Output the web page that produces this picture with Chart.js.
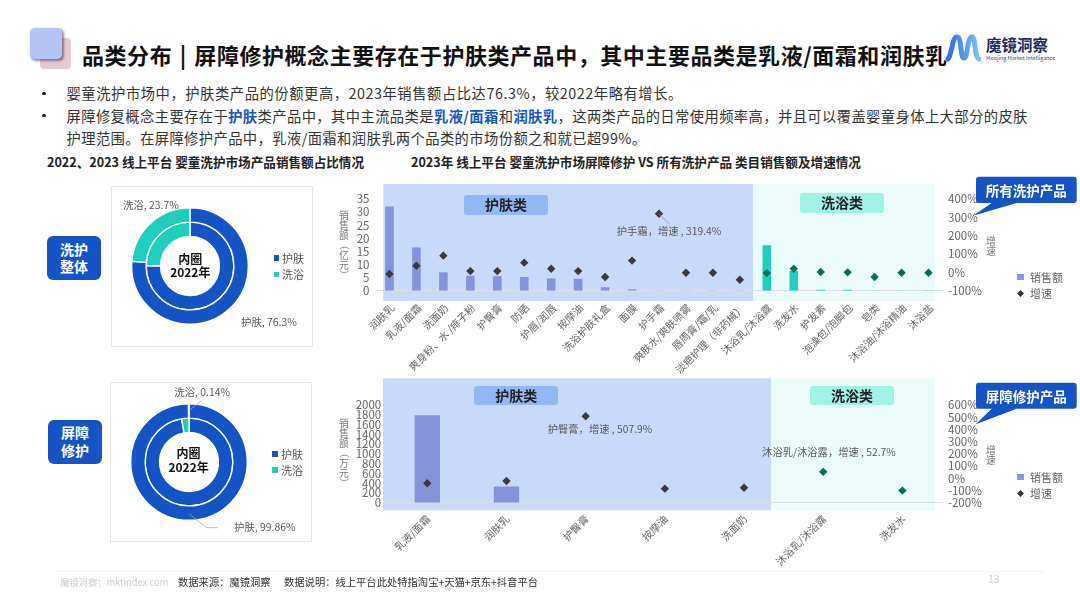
<!DOCTYPE html>
<html lang="zh">
<head>
<meta charset="utf-8">
<script src="https://cdn.jsdelivr.net/npm/chart.js@4"></script>
<style>
  * { box-sizing: border-box; }
  html, body { margin: 0; padding: 0; background: #fff; }
  body { position: relative; width: 1080px; height: 608px; overflow: hidden; font-family: "Noto Sans CJK SC", "Noto Sans", sans-serif; color: #333; }
  .abs { position: absolute; white-space: nowrap; }
  canvas { position: absolute; }
  .title { left: 82px; top: 38px; font-size: 22px; line-height: 32px; font-weight: 700; color: #111; letter-spacing: .55px; word-spacing: 2px; }
  .bullet { left: 66.5px; font-size: 14.3px; line-height: 20px; letter-spacing: .4px; color: #333; }
  .bullet b { color: #1554c7; }
  .dot { left: 42px; width: 3.5px; height: 3.5px; border-radius: 50%; background: #222; }
  .sub { font-size: 12.6px; line-height: 16px; font-weight: 700; color: #222; }
  .tag { background: #1554c7; color: #fff; font-weight: 700; font-size: 14px; line-height: 17.5px; border-radius: 6px; display: flex; align-items: center; justify-content: center; text-align: center; white-space: normal; width: 54px; height: 43.5px; }
  .box { border: 1.5px solid #e6e6e6; }
  .note { font-size: 10.4px; line-height: 16px; color: #595959; }
  .lg { font-size: 11px; line-height: 16px; color: #595959; }
  .centre { font-size: 12px; line-height: 13.5px; font-weight: 700; color: #111; text-align: center; width: 60px; }
  .sq { width: 5.5px; height: 5.5px; }
  .band { width: 84px; height: 19.7px; border-radius: 3px; font-size: 14px; line-height: 19.7px; font-weight: 700; color: #222; text-align: center; }
  .vert { width: 10px; white-space: normal; line-break: anywhere; font-size: 9.8px; line-height: 10px; color: #777; }
  .vert i { display: inline-block; font-style: normal; transform: rotate(90deg); }
  .call { font-size: 13.5px; font-weight: 700; color: #fff; width: 100.7px; text-align: center; line-height: 26px; }
  .foot { font-size: 10.3px; line-height: 14px; }
</style>
</head>
<body>
<!-- header -->
<div class="abs" style="left:40.4px;top:38px;width:30.6px;height:30.5px;border-radius:4px;background:#e7c9d5"></div>
<div class="abs" style="left:30.4px;top:27.5px;width:31.5px;height:31px;border-radius:5px;background:#b4c4f5;box-shadow:1.5px 1.5px 2.5px rgba(70,60,80,.6)"></div>
<div class="abs title">品类分布 | 屏障修护概念主要存在于护肤类产品中，其中主要品类是乳液/面霜和润肤乳</div>
<svg class="abs" style="left:945px;top:32px" width="36" height="34" viewBox="0 0 36 32">
  <defs><linearGradient id="mg" x1="0" x2="1" y1="0" y2="0"><stop offset="0" stop-color="#2f6fe6"/><stop offset="1" stop-color="#7cc0f5"/></linearGradient></defs>
  <path d="M3 26 C7 22 7 4 12 4 C17 4 15 25 19 25 C23 25 22 4 27 4 C31 4 29 24 34 26" fill="none" stroke="url(#mg)" stroke-width="5" stroke-linecap="round"/>
</svg>
<div class="abs" style="left:986px;top:34px;font-size:15.5px;line-height:20px;font-weight:700;color:#232a5c">魔镜洞察</div>
<div class="abs" style="left:986px;top:54px;font-size:5.4px;line-height:8px;color:#3d4a80">Moojing Market Intelligance</div>

<!-- bullets -->
<div class="abs dot" style="top:91.5px"></div>
<div class="abs dot" style="top:113.8px"></div>
<div class="abs bullet" style="top:83.3px;letter-spacing:.55px">婴童洗护市场中，护肤类产品的份额更高，2023年销售额占比达76.3%，较2022年略有增长。</div>
<div class="abs bullet" style="top:105.7px">屏障修复概念主要存在于<b>护肤</b>类产品中，其中主流品类是<b>乳液/面霜</b>和<b>润肤乳</b>，这两类产品的日常使用频率高，并且可以覆盖婴童身体上大部分的皮肤</div>
<div class="abs bullet" style="top:128px">护理范围。在屏障修护产品中，乳液/面霜和润肤乳两个品类的市场份额之和就已超99%。</div>
<div class="abs sub" style="left:47px;top:153.7px">2022、2023 线上平台 婴童洗护市场产品销售额占比情况</div>
<div class="abs sub" style="left:411px;top:153.7px">2023年 线上平台 婴童洗护市场屏障修护 VS 所有洗护产品 类目销售额及增速情况</div>

<!-- left panels -->
<div class="abs tag" style="left:47px;top:236.3px">洗护<br>整体</div>
<div class="abs box" style="left:111px;top:186.3px;width:201.7px;height:160.4px"></div>
<canvas id="pieOverall" style="left:131px;top:207px;width:118px;height:118px"></canvas>
<div class="abs centre" style="left:160.3px;top:251.5px">内圈<br>2022年</div>
<div class="abs note" style="left:123px;top:196.7px">洗浴, 23.7%</div>
<div class="abs note" style="left:241px;top:314px">护肤, 76.3%</div>
<div class="abs sq" style="left:273.7px;top:255px;background:#1554c7"></div>
<div class="abs lg" style="left:282px;top:249.7px">护肤</div>
<div class="abs sq" style="left:273.7px;top:271.5px;background:#1fcfbb"></div>
<div class="abs lg" style="left:282px;top:266.3px">洗浴</div>

<div class="abs tag" style="left:48px;top:420px">屏障<br>修护</div>
<div class="abs box" style="left:109.7px;top:382.3px;width:202px;height:160px"></div>
<canvas id="pieBarrier" style="left:130px;top:403.3px;width:118px;height:118px"></canvas>
<div class="abs centre" style="left:158.6px;top:446px">内圈<br>2022年</div>
<div class="abs note" style="left:174.3px;top:384.3px">洗浴, 0.14%</div>
<div class="abs note" style="left:234px;top:519.3px">护肤, 99.86%</div>
<div class="abs sq" style="left:272.3px;top:451.3px;background:#1554c7"></div>
<div class="abs lg" style="left:281px;top:446px">护肤</div>
<div class="abs sq" style="left:272.3px;top:467.3px;background:#1fcfbb"></div>
<div class="abs lg" style="left:281px;top:462px">洗浴</div>

<!-- combo charts -->
<canvas id="allChart" style="left:340px;top:175px;width:660px;height:200px"></canvas>
<canvas id="barrierChart" style="left:340px;top:375px;width:660px;height:195px"></canvas>
<svg class="abs" style="left:0;top:0;pointer-events:none" width="1080" height="608">
  <polyline points="201.7,400.7 189.3,410.3" fill="none" stroke="#aaa" stroke-width=".8"/>
  <polyline points="189.3,514 206.7,527.7 217.7,527.7" fill="none" stroke="#aaa" stroke-width=".8"/>
  <path d="M979 176.7H1073.7a3 3 0 0 1 3 3V200a3 3 0 0 1 -3 3H1016.7L973 215.7L991.7 203H979a3 3 0 0 1 -3 -3V179.7a3 3 0 0 1 3 -3Z" fill="#1554c7"/>
  <path d="M979 382.7H1073.7a3 3 0 0 1 3 3V405.7a3 3 0 0 1 -3 3H1016.7L975.7 424.3L991.7 408.7H979a3 3 0 0 1 -3 -3V385.7a3 3 0 0 1 3 -3Z" fill="#1554c7"/>
</svg>
<div class="abs band" style="left:464px;top:195px;background:#93b6f5">护肤类</div>
<div class="abs band" style="left:800px;top:193px;background:#a3f2e8">洗浴类</div>
<div class="abs band" style="left:474.3px;top:385.7px;background:#93b6f5">护肤类</div>
<div class="abs band" style="left:810px;top:385.7px;background:#a3f2e8">洗浴类</div>
<div class="abs call" style="left:976px;top:176.7px">所有洗护产品</div>
<div class="abs call" style="left:976px;top:382.7px">屏障修护产品</div>
<div class="abs vert" style="left:339px;top:209.5px">销售额<i>（</i>亿元<i>）</i></div>
<div class="abs vert" style="left:339px;top:417.5px">销售额<i>（</i>万元<i>）</i></div>
<div class="abs vert" style="left:986px;top:236px">增速</div>
<div class="abs vert" style="left:986px;top:444.5px">增速</div>
<div class="abs sq" style="left:1017.3px;top:273.5px;width:6.5px;height:6.5px;background:#8c98dc"></div>
<div class="abs lg" style="left:1030px;top:269px;color:#666">销售额</div>
<div class="abs" style="left:1018.2px;top:290.5px;width:5px;height:5px;background:#3a3a3a;transform:rotate(45deg)"></div>
<div class="abs lg" style="left:1030px;top:285px;color:#666">增速</div>
<div class="abs sq" style="left:1017.3px;top:473.5px;width:6.5px;height:6.5px;background:#8c98dc"></div>
<div class="abs lg" style="left:1030px;top:469px;color:#666">销售额</div>
<div class="abs" style="left:1018.2px;top:490.5px;width:5px;height:5px;background:#3a3a3a;transform:rotate(45deg)"></div>
<div class="abs lg" style="left:1030px;top:485px;color:#666">增速</div>

<!-- footer -->
<div class="abs" style="left:58px;top:570.5px;width:985px;height:1px;background:#f2f2f2"></div>
<div class="abs foot" style="left:60px;top:575px;color:#cfcfcf;font-size:9.3px">魔镜洞察：mktindex.com</div>
<div class="abs foot" style="left:178px;top:575px;color:#333">数据来源：魔镜洞察</div>
<div class="abs foot" style="left:284px;top:575px;color:#333">数据说明：线上平台此处特指淘宝+天猫+京东+抖音平台</div>
<div class="abs foot" style="left:988px;top:572px;color:#ccc">13</div>

<script>
// Category sales + growth, all products
const allCats = ["润肤乳", "乳液/面霜", "洗面奶", "爽身粉、水 /痱子粉", "护臀膏", "防晒", "护唇/润唇", "按摩油", "洗浴护肤礼盒", "面膜", "护手霜", "爽肤水/爽肤喷雾", "唇周膏/霜/乳", "淡疤护理（非药械）", "沐浴乳/沐浴露", "洗发水", "护发素", "泡澡包/泡脚包", "皂类", "沐浴油/沐浴精油", "沐浴盐"];
const allSales = [32.1, 16.5, 7.0, 5.7, 5.5, 5.2, 4.7, 4.6, 1.3, 0.6, 0.1, 0.05, 0.05, 0.05, 17.3, 7.5, 0.4, 0.4, 0.05, 0.05, 0.05];
const allGrowth = [-9, 36, 91, 7, 7, 53, 20, 7, -25, 64, 319.4, -2, -2, -40, -4, 20, 2, 0, -25, -2, -2];
const allSalesTicks = [0, 5, 10, 15, 20, 25, 30, 35];
const allGrowthTicks = [-100, 0, 100, 200, 300, 400];

// Category sales + growth, barrier repair products
const barrierCats = ["乳液/面霜", "润肤乳", "护臀膏", "按摩油", "洗面奶", "沐浴乳/沐浴露", "洗发水"];
const barrierSales = [1788, 334, 0, 0, 0, 0, 0];
const barrierGrowth = [-41, -22, 507.9, -85, -77, 52.7, -101];
const barrierSalesTicks = [0, 200, 400, 600, 800, 1000, 1200, 1400, 1600, 1800, 2000];
const barrierGrowthTicks = [-200, -100, 0, 100, 200, 300, 400, 500, 600];

// Share doughnuts, outer ring 2023, inner ring 2022
const shareLabels = ["护肤", "洗浴"];
const overallOuter = [76.3, 23.7];
const overallInner = [75.1, 24.9];
const barrierOuter = [99.86, 0.14];
const barrierInner = [97.3, 2.7];

const fontFamily = '"Noto Sans CJK SC", "Noto Sans", sans-serif';
const BLUE = "#1554c7";
const TEAL = "#1fcfbb";

// light bands behind the plot, positioned through the x scale
const bandPlugin = {
  id: "bands",
  beforeDraw(chart, args, opts) {
    const x = chart.scales.x, ctx = chart.ctx, area = chart.chartArea;
    const top = area.top - opts.above, h = area.bottom + opts.below - top;
    const a = x.getPixelForValue(opts.from), b = x.getPixelForValue(opts.split), c = x.getPixelForValue(opts.to);
    ctx.save();
    ctx.fillStyle = "#c7daf9";
    ctx.fillRect(a, top, b - a, h);
    ctx.fillStyle = "#ebfbfa";
    ctx.fillRect(b, top, c - b, h);
    ctx.restore();
  }
};

// point callouts like "护手霜, 增速 , 319.4%"
const calloutPlugin = {
  id: "callouts",
  afterDatasetsDraw(chart, args, opts) {
    const ctx = chart.ctx, pts = chart.getDatasetMeta(1).data;
    ctx.save();
    ctx.font = "10.3px " + fontFamily;
    ctx.textAlign = "center";
    ctx.textBaseline = "middle";
    opts.items.forEach(it => {
      const p = pts[it.index];
      const text = chart.data.labels[it.index] + "，增速 , " + chart.data.datasets[1].data[it.index] + "%";
      if (it.leader) {
        ctx.strokeStyle = "#8a94a8";
        ctx.lineWidth = 0.8;
        ctx.beginPath();
        ctx.moveTo(p.x, p.y);
        ctx.lineTo(p.x + it.leader[0], p.y + it.leader[1]);
        ctx.stroke();
      }
      ctx.fillStyle = "#595959";
      ctx.fillText(text, p.x + it.dx, p.y + it.dy);
    });
    ctx.restore();
  }
};

function comboChart(id, cats, sales, growth, salesTicks, growthTicks, o) {
  const isBath = cats.map((c, i) => i > o.split);
  return new Chart(document.getElementById(id).getContext("2d"), {
    type: "bar",
    plugins: [bandPlugin, calloutPlugin],
    data: {
      labels: cats,
      datasets: [
        {
          label: "销售额",
          data: sales,
          yAxisID: "y",
          order: 2,
          barPercentage: 0.32,
          categoryPercentage: 1,
          backgroundColor: isBath.map(b => b ? TEAL : "#8494db")
        },
        {
          type: "line",
          label: "增速",
          data: growth,
          yAxisID: "y1",
          order: 1,
          showLine: false,
          pointStyle: "rectRot",
          pointRadius: 4.2,
          pointBackgroundColor: isBath.map(b => b ? "#0f6b5c" : "#3a3a3a"),
          pointBorderWidth: 0
        }
      ]
    },
    options: {
      responsive: false,
      animation: false,
      events: [],
      layout: { padding: { top: o.padTop, left: 0, right: 0, bottom: 0 } },
      plugins: {
        legend: { display: false },
        tooltip: { enabled: false },
        bands: { from: o.bandFrom, split: o.bandSplit, to: o.bandTo, above: o.above, below: o.below },
        callouts: { items: o.callouts }
      },
      scales: {
        x: {
          offset: true,
          grid: { display: false },
          border: { display: true, color: "#dcdfe6", width: 1 },
          ticks: { autoSkip: false, minRotation: 45, maxRotation: 45, padding: o.tickPad, labelOffset: o.labelShift, color: "#666", font: { family: fontFamily, size: 10.3 } },
          afterFit(s) { s.height = o.xHeight; s.paddingLeft = 0; s.paddingRight = 0; }
        },
        y: {
          position: "left",
          min: salesTicks[0],
          max: salesTicks[salesTicks.length - 1],
          afterBuildTicks(s) { s.ticks = salesTicks.map(v => ({ value: v })); },
          grid: { display: false, drawTicks: false },
          border: { display: false },
          ticks: { autoSkip: false, padding: 6.5, color: "#666", font: { family: fontFamily, size: 11.5 }, callback: v => String(v) },
          afterFit(s) { s.width = o.leftWidth; s.paddingTop = 0; s.paddingBottom = 0; }
        },
        y1: {
          position: "right",
          min: growthTicks[0],
          max: growthTicks[growthTicks.length - 1],
          afterBuildTicks(s) { s.ticks = growthTicks.map(v => ({ value: v })); },
          grid: { display: false, drawTicks: false },
          border: { display: false },
          ticks: { autoSkip: false, padding: 6, color: "#666", font: { family: fontFamily, size: 11.5 }, callback: v => v + "%" },
          afterFit(s) { s.width = 58; s.paddingTop = 0; s.paddingBottom = 0; }
        }
      }
    }
  });
}

comboChart("allChart", allCats, allSales, allGrowth, allSalesTicks, allGrowthTicks, {
  split: 13, bandFrom: -0.23, bandSplit: 13.5, bandTo: 20.25, above: 15, below: 10.3,
  padTop: 24, xHeight: 84.3, leftWidth: 36, tickPad: 3, labelShift: 3,
  callouts: [{ index: 10, dx: 10, dy: 17.5, leader: [10, 10] }]
});
comboChart("barrierChart", barrierCats, barrierSales, barrierGrowth, barrierSalesTicks, barrierGrowthTicks, {
  split: 4, bandFrom: -0.56, bandSplit: 4.34, bandTo: 6.41, above: 26.7, below: 7.6,
  padTop: 30, xHeight: 67.3, leftWidth: 47.7, tickPad: 2, labelShift: 1,
  callouts: [
    { index: 2, dx: 14.3, dy: 12.7 },
    { index: 5, dx: 5.7, dy: -20 }
  ]
});

function shareChart(id, outer, inner) {
  return new Chart(document.getElementById(id).getContext("2d"), {
    type: "doughnut",
    data: {
      labels: shareLabels,
      datasets: [
        { data: outer, backgroundColor: [BLUE, TEAL], borderColor: "#fff", borderWidth: 1.4 },
        { data: inner, backgroundColor: [BLUE, TEAL], borderColor: "#fff", borderWidth: 1.4 }
      ]
    },
    options: {
      responsive: false,
      animation: false,
      events: [],
      cutout: "50.5%",
      plugins: { legend: { display: false }, tooltip: { enabled: false } }
    }
  });
}

shareChart("pieOverall", overallOuter, overallInner);
shareChart("pieBarrier", barrierOuter, barrierInner);
</script>
</body>
</html>
